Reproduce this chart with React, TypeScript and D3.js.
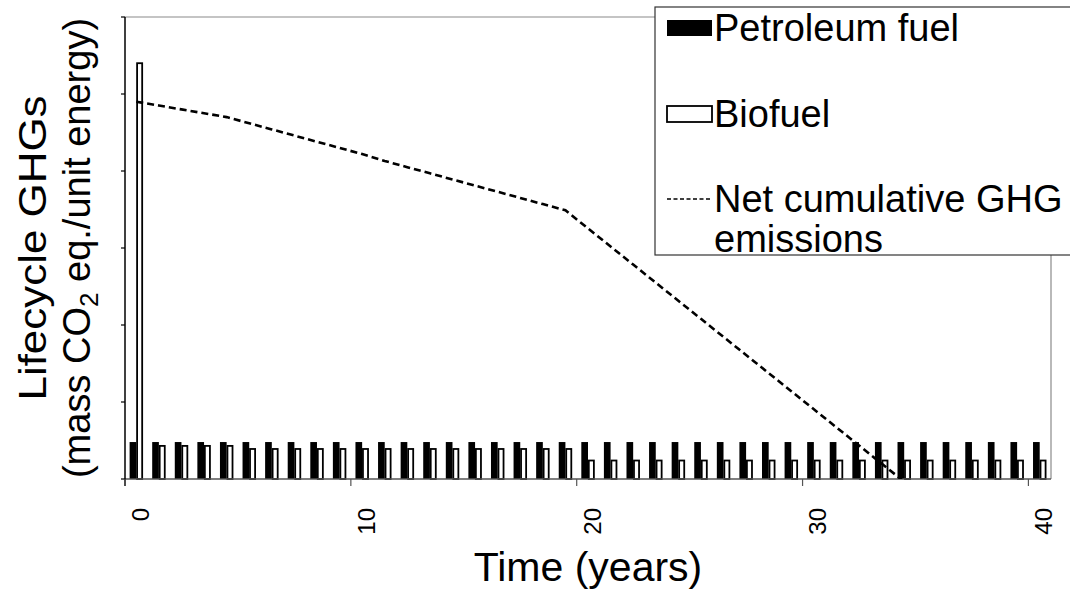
import React from "react";
import * as d3 from "d3";

const years: number[] = [
  0, 1, 2, 3, 4, 5, 6, 7, 8, 9, 10, 11, 12, 13, 14, 15, 16, 17, 18, 19, 20,
  21, 22, 23, 24, 25, 26, 27, 28, 29, 30, 31, 32, 33, 34, 35, 36, 37, 38, 39, 40,
];
const petroleum: number[] = [
  0.48, 0.48, 0.48, 0.48, 0.48, 0.48, 0.48, 0.48, 0.48, 0.48, 0.48, 0.48, 0.48,
  0.48, 0.48, 0.48, 0.48, 0.48, 0.48, 0.48, 0.48, 0.48, 0.48, 0.48, 0.48, 0.48,
  0.48, 0.48, 0.48, 0.48, 0.48, 0.48, 0.48, 0.48, 0.48, 0.48, 0.48, 0.48, 0.48,
  0.48, 0.48,
];
const biofuel: number[] = [
  5.4, 0.43, 0.43, 0.43, 0.43, 0.39, 0.39, 0.39, 0.39, 0.39, 0.39, 0.39, 0.39,
  0.39, 0.39, 0.39, 0.39, 0.39, 0.39, 0.39, 0.24, 0.24, 0.24, 0.24, 0.24, 0.24,
  0.24, 0.24, 0.24, 0.24, 0.24, 0.24, 0.24, 0.24, 0.24, 0.24, 0.24, 0.24, 0.24,
  0.24, 0.24,
];
const netCumulative: number[] = [
  4.9, 4.85, 4.8, 4.75, 4.7, 4.62, 4.54, 4.46, 4.38, 4.3, 4.22, 4.13, 4.05,
  3.97, 3.89, 3.81, 3.73, 3.65, 3.57, 3.49, 3.255, 3.02, 2.785, 2.55, 2.315,
  2.08, 1.845, 1.61, 1.375, 1.14, 0.905, 0.67, 0.435, 0.2, -0.035,
];
const yTicks: number[] = [0, 1, 2, 3, 4, 5, 6];
const xTickLabels: number[] = [0, 10, 20, 30, 40];
const seriesNames: string[] = ["Petroleum fuel", "Biofuel"];

const FONT = "'Liberation Sans', Arial, Helvetica, sans-serif";

export default function App() {
  const W = 1070;
  const H = 592;
  const left = 125;
  const right = 1051;
  const top = 17;
  const bottom = 479;

  const x = d3
    .scaleBand<number>()
    .domain(years)
    .range([left, right])
    .paddingInner(0)
    .paddingOuter(0);
  const inner = d3
    .scaleBand<string>()
    .domain(seriesNames)
    .range([0, x.bandwidth()])
    .paddingInner(0)
    .paddingOuter(0.69);
  const y = d3.scaleLinear().domain([0, 6]).range([bottom, top]);

  const cx = (i: number) => (x(years[i]) as number) + x.bandwidth() / 2;
  const line = d3
    .line<number>()
    .x((_, i) => cx(i))
    .y((d) => y(d));

  const bw = inner.bandwidth();

  return (
    <svg
      width={W}
      height={H}
      style={{ position: "absolute", left: 0, top: 0, background: "#fff" }}
      fontFamily={FONT}
    >
      <defs>
        <clipPath id="plotClip">
          <rect x={left} y={top} width={right - left} height={bottom - top} />
        </clipPath>
      </defs>
      <rect x={0} y={0} width={W} height={H} fill="#fff" />
      {/* plot border (top & right) */}
      <line x1={left} y1={top} x2={right} y2={top} stroke="#8a8a8a" strokeWidth={1.2} />
      <line x1={right} y1={top} x2={right} y2={bottom} stroke="#8a8a8a" strokeWidth={1.2} />

      {/* bars */}
      {years.map((yr, i) => {
        const x0 = x(yr) as number;
        return (
          <g key={"b" + yr}>
            <rect
              x={x0 + (inner(seriesNames[0]) as number)}
              y={y(petroleum[i])}
              width={bw}
              height={y(0) - y(petroleum[i])}
              fill="#000"
            />
            <rect
              x={x0 + (inner(seriesNames[1]) as number) + 0.8}
              y={y(biofuel[i])}
              width={bw - 1.6}
              height={y(0) - y(biofuel[i])}
              fill="#fff"
              stroke="#000"
              strokeWidth={1.8}
            />
          </g>
        );
      })}

      {/* axes */}
      <line x1={left} y1={bottom} x2={right} y2={bottom} stroke="#555" strokeWidth={1.5} />
      <line x1={left} y1={top} x2={left} y2={bottom + 7} stroke="#000" strokeWidth={1.5} />
      {yTicks.map((t) => (
        <line key={"yt" + t} x1={left - 4} x2={left} y1={y(t)} y2={y(t)} stroke="#000" strokeWidth={1.2} />
      ))}
      {xTickLabels.map((t) => (
        <line
          key={"xt" + t}
          x1={x(t) as number}
          x2={x(t) as number}
          y1={bottom}
          y2={bottom + 7}
          stroke="#555"
          strokeWidth={1.2}
        />
      ))}
      {xTickLabels.map((t) => {
        const px = (x(t) as number) + x.bandwidth() / 2 + 4;
        const py = 508;
        return (
          <text
            key={"xl" + t}
            transform={`translate(${px},${py}) rotate(-90)`}
            textAnchor="end"
            dominantBaseline="central"
            fontSize={24}
            fill="#000"
          >
            {t}
          </text>
        );
      })}

      {/* net cumulative line */}
      <path
        d={line(netCumulative) as string}
        fill="none"
        stroke="#000"
        strokeWidth={2.6}
        strokeDasharray="7,4"
        clipPath="url(#plotClip)"
      />

      {/* axis titles */}
      <text x={588} y={581} textAnchor="middle" fontSize={41} fill="#000">
        Time (years)
      </text>
      <g transform={`translate(0,${(top + bottom) / 2}) rotate(-90)`}>
        <text
          x={0}
          y={46}
          textAnchor="middle"
          fontSize={39}
          fill="#000"
          textLength={305}
          lengthAdjust="spacingAndGlyphs"
        >
          Lifecycle GHGs
        </text>
        <text x={0} y={90} textAnchor="middle" fontSize={38} fill="#000">
          (mass CO
          <tspan fontSize={26} dy={8}>2</tspan>
          <tspan dy={-8}> eq./unit energy)</tspan>
        </text>
      </g>

      {/* legend */}
      <rect x={655} y={7} width={430} height={248} fill="#fff" stroke="#333" strokeWidth={1.2} />
      <rect x={667} y={20} width={45} height={16} fill="#000" />
      <text x={714} y={41} fontSize={38} fill="#000">Petroleum fuel</text>
      <rect x={667} y={106} width={45} height={16} fill="#fff" stroke="#000" strokeWidth={1.8} />
      <text x={714} y={127} fontSize={38} fill="#000">Biofuel</text>
      <line x1={667} x2={712} y1={199} y2={199} stroke="#000" strokeWidth={1.3} strokeDasharray="4,2.5" />
      <text x={714} y={212} fontSize={38} fill="#000">Net cumulative GHG</text>
      <text x={714} y={252} fontSize={38} fill="#000">emissions</text>
    </svg>
  );
}
